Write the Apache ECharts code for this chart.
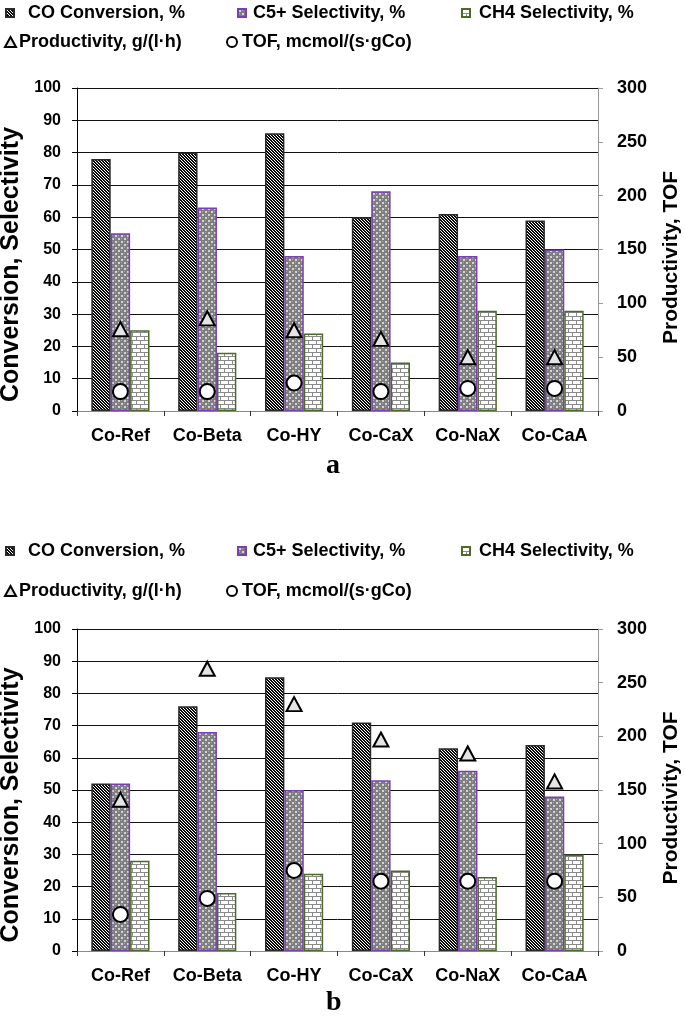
<!DOCTYPE html>
<html><head><meta charset="utf-8">
<script src="https://cdn.jsdelivr.net/npm/echarts@6/dist/echarts.min.js"></script>
<style>html,body{margin:0;padding:0;background:#fff}#c{width:685px;height:1024px}</style>
</head><body><div id="c"></div>
<script>
const categories = ['Co-Ref','Co-Beta','Co-HY','Co-CaX','Co-NaX','Co-CaA'];
const leftTicks = [0,10,20,30,40,50,60,70,80,90,100];
const rightTicks = [0,50,100,150,200,250,300];
// Panel a
const coConvA = [78, 80, 86, 60, 61, 59];
const c5SelA  = [55, 63, 48, 68, 48, 50];
const ch4SelA = [25, 18, 24, 15, 31, 31];
const prodA   = [76, 86, 75, 67, 50, 50];
const tofA    = [18, 18, 26, 18, 21, 21];
// Panel b
const coConvB = [52, 76, 85, 71, 63, 64];
const c5SelB  = [52, 68, 50, 53, 56, 48];
const ch4SelB = [28, 18, 24, 25, 23, 30];
const prodB   = [141, 263, 230, 197, 184, 158];
const tofB    = [34, 49, 75, 65, 65, 65];

const names = ['CO Conversion, %','C5+ Selectivity, %','CH4 Selectivity, %','Productivity, g/(l\u00b7h)','TOF, mcmol/(s\u00b7gCo)'];

function tile(w,h,draw){const c=document.createElement('canvas');c.width=w;c.height=h;const g=c.getContext('2d');draw(g);return c;}
const patCO = tile(3,3,g=>{g.fillStyle='#0a0a0a';g.fillRect(0,0,3,3);g.fillStyle='#fff';
  for(let y=0;y<3;y++){for(let x=0;x<3;x++){const d=((x-y)%3+3)%3; if(d===0){g.fillRect(x,y,1,1);} }}});
const patC5 = tile(6,6,g=>{g.fillStyle='#7e7e7e';g.fillRect(0,0,6,6);g.fillStyle='#d4d4d4';
  g.fillRect(1,1,2,2);g.fillRect(4,4,2,2);g.fillStyle='#aaaaaa';g.fillRect(4,1,1,1);g.fillRect(1,4,1,1);});
const patCH4 = tile(16,8,g=>{g.fillStyle='#fff';g.fillRect(0,0,16,8);g.fillStyle='#8a8a8a';
  g.fillRect(0,0,16,1);g.fillRect(0,4,16,1);g.fillRect(0,1,1,3);g.fillRect(8,1,1,3);g.fillRect(4,5,1,3);g.fillRect(12,5,1,3);});

const F = "'Liberation Sans', Arial, sans-serif";
const chart = echarts.init(document.getElementById('c'));

const grids = [
  {left:77, top:88, width:521, height:323, containLabel:false, outerBoundsMode:'none'},
  {left:77, top:629, width:521, height:322, containLabel:false, outerBoundsMode:'none'}
];
function xAxis(i){return {type:'category', gridIndex:i, data:categories,
  axisLine:{lineStyle:{color:'#888',width:1}}, axisTick:{show:true,length:5,lineStyle:{color:'#333'}},
  axisLabel:{interval:0,color:'#000',fontFamily:F,fontWeight:'bold',fontSize:18,margin:16}};}
function yLeft(i){return {type:'value', gridIndex:i, min:0, max:100, interval:10, position:'left',
  name:'Conversion, Selectivity', nameLocation:'middle', nameGap:53, nameRotate:90,
  nameTextStyle:{color:'#000',fontFamily:F,fontWeight:'bold',fontSize:25,padding:[0,30,0,0]},
  axisLine:{show:true,lineStyle:{color:'#000',width:1}}, axisTick:{show:true,length:5,lineStyle:{color:'#000'}},
  axisLabel:{color:'#000',fontFamily:F,fontWeight:'bold',fontSize:16,margin:16},
  splitLine:{show:true,lineStyle:{color:'#111',width:1}}};}
function yRight(i){return {type:'value', gridIndex:i, min:0, max:300, interval:50, position:'right',
  name:'Productivity, TOF', nameLocation:'middle', nameGap:63, nameRotate:90,
  nameTextStyle:{color:'#000',fontFamily:F,fontWeight:'bold',fontSize:21,padding:[0,16,0,0]},
  axisLine:{show:true,lineStyle:{color:'#999',width:1}}, axisTick:{show:true,length:5,lineStyle:{color:'#999'}},
  axisLabel:{color:'#000',fontFamily:F,fontWeight:'bold',fontSize:18,margin:19},
  splitLine:{show:false}};}

function bars(xi, yi, co, c5, ch4){
  return [
    {name:names[0], type:'bar', xAxisIndex:xi, yAxisIndex:yi, data:co, barGap:'0%', barCategoryGap:'33%',
      itemStyle:{color:{image:patCO,repeat:'repeat'}, borderColor:'#2a2a2a', borderWidth:1.5}},
    {name:names[1], type:'bar', xAxisIndex:xi, yAxisIndex:yi, data:c5, barGap:'0%', barCategoryGap:'33%',
      itemStyle:{color:{image:patC5,repeat:'repeat'}, borderColor:'#7b3fb5', borderWidth:1.5}},
    {name:names[2], type:'bar', xAxisIndex:xi, yAxisIndex:yi, data:ch4, barGap:'0%', barCategoryGap:'33%',
      itemStyle:{color:{image:patCH4,repeat:'repeat'}, borderColor:'#4d6a28', borderWidth:1.5}}
  ];
}
function points(xi, yi, prod, tof){
  return [
    {name:names[3], type:'scatter', xAxisIndex:xi, yAxisIndex:yi, data:prod, symbol:'triangle', symbolSize:[15,14], z:5,
      itemStyle:{color:'#e4e4e4', borderColor:'#000', borderWidth:2, opacity:1}},
    {name:names[4], type:'scatter', xAxisIndex:xi, yAxisIndex:yi, data:tof, symbol:'circle', symbolSize:15, z:5,
      itemStyle:{color:'#fff', borderColor:'#000', borderWidth:2, opacity:1}}
  ];
}

const legTxt = {color:'#000',fontFamily:F,fontWeight:'bold',fontSize:18};
function legend(name, left, top, icon, w, h, pad){
  return {data:[{name:name, icon:icon}], left:left, top:top, padding:0, itemWidth:w, itemHeight:h,
    selectedMode:false, textStyle:Object.assign({padding:[0,0,0,pad]}, legTxt)};
}
const legends = [];
[[4, 29], [542, 40]].forEach(([y0, dy]) => {
  legends.push(legend(names[0], 5, y0, 'rect', 8, 8, 9));
  legends.push(legend(names[1], 237, y0, 'rect', 8, 8, 2));
  legends.push(legend(names[2], 461, y0, 'rect', 8, 8, 4));
  legends.push(legend(names[3], 4, y0+dy, 'triangle', 11, 10, -2));
  legends.push(legend(names[4], 226, y0+dy, 'circle', 10, 10, 0));
});

chart.setOption({
  animation:false,
  backgroundColor:'#fff',
  title:[
    {text:'a', left:326, top:452, padding:0, textStyle:{fontFamily:"'Liberation Serif', serif", fontWeight:'bold', fontSize:28, color:'#000'}},
    {text:'b', left:326, top:989, padding:0, textStyle:{fontFamily:"'Liberation Serif', serif", fontWeight:'bold', fontSize:28, color:'#000'}}
  ],
  legend: legends,
  grid: grids,
  xAxis:[xAxis(0), xAxis(1)],
  yAxis:[yLeft(0), yRight(0), yLeft(1), yRight(1)],
  series:[].concat(bars(0,0,coConvA,c5SelA,ch4SelA), points(0,1,prodA,tofA),
                   bars(1,2,coConvB,c5SelB,ch4SelB), points(1,3,prodB,tofB))
});
</script></body></html>
